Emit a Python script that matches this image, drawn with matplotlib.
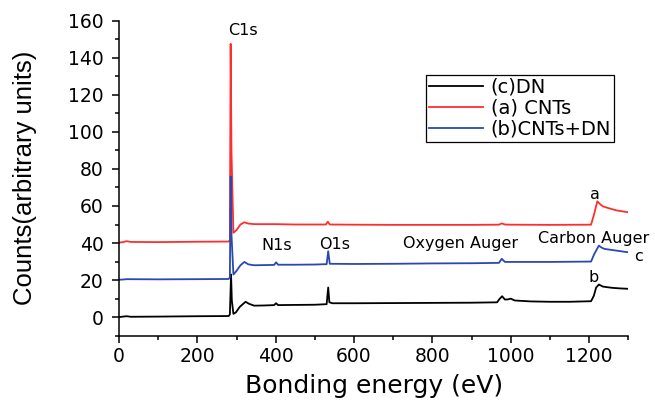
import matplotlib
matplotlib.use("Agg")
from matplotlib import pyplot as plt
from matplotlib.ticker import MultipleLocator

# XPS survey spectra (energy in eV, counts a.u.)
dn_energy = [0, 10, 20, 30, 100, 200, 280, 283, 286, 288, 292, 298, 308, 316, 323,
             332, 345, 370, 396, 401, 406, 450, 500, 530, 534, 537, 545, 600, 700,
             800, 900, 965, 972, 978, 985, 993, 1000, 1010, 1050, 1100, 1150, 1205,
             1212, 1218, 1225, 1235, 1245, 1260, 1280, 1300]
dn_counts = [0.0, 0.3, 0.5, 0.2, 0.3, 0.5, 0.6, 1.5, 23.0, 9.0, 1.8, 2.5, 5.5, 7.0, 8.3,
             7.2, 6.2, 6.3, 6.5, 7.5, 6.5, 6.6, 6.7, 7.0, 16.0, 8.0, 7.5, 7.5, 7.6,
             7.7, 7.8, 8.0, 10.0, 11.3, 9.5, 9.6, 10.0, 9.0, 8.5, 8.3, 8.3, 8.6,
             11.5, 16.0, 17.6, 16.5, 16.2, 15.8, 15.5, 15.3]

cnt_energy = [0, 10, 20, 30, 100, 200, 280, 283, 285, 287, 292, 300, 310, 320, 330,
              345, 400, 450, 500, 528, 533, 538, 600, 700, 800, 900, 970, 977, 985,
              1000, 1100, 1205, 1212, 1221, 1228, 1235, 1250, 1270, 1300]
cnt_counts = [40.2, 40.5, 41.0, 40.6, 40.5, 40.7, 40.8, 41.5, 147.5, 90.0, 45.5, 47.0,
              50.0, 51.2, 50.5, 50.2, 50.2, 50.0, 50.0, 50.0, 51.5, 50.0, 49.9, 49.8,
              49.8, 49.8, 49.9, 50.6, 50.0, 49.9, 49.8, 49.9, 55.0, 62.5, 61.0, 59.8,
              58.8, 57.6, 56.6]

mix_energy = [0, 10, 20, 100, 200, 280, 283, 285, 287, 292, 300, 310, 320, 330, 345,
              396, 401, 406, 450, 500, 530, 534, 538, 600, 700, 800, 900, 970, 977,
              985, 1000, 1100, 1205, 1213, 1225, 1232, 1240, 1260, 1280, 1300]
mix_counts = [20.2, 20.3, 20.5, 20.4, 20.5, 20.6, 21.5, 76.0, 45.0, 23.0, 25.0, 28.0,
              29.8, 28.5, 28.0, 28.2, 29.6, 28.3, 28.3, 28.4, 28.6, 35.6, 28.8, 28.7,
              28.8, 29.0, 29.1, 29.3, 31.5, 29.8, 29.8, 29.8, 30.0, 34.0, 38.6, 37.5,
              36.8, 36.2, 35.6, 35.0]

peak_labels = ["C1s", "N1s", "O1s", "Oxygen Auger", "Carbon Auger", "a", "b", "c"]
peak_x = [317, 403, 550, 873, 1212, 1215, 1211, 1326]
peak_y = [154.5, 38.6, 39.2, 39.5, 42.4, 66.1, 21.2, 32.5]

x_ticks = [0, 200, 400, 600, 800, 1000, 1200]
y_ticks = [0, 20, 40, 60, 80, 100, 120, 140, 160]

plt.rcParams["font.family"] = "DejaVu Sans"

fig = plt.figure(figsize=(6.55, 4.0), dpi=100)
ax = fig.add_axes([0.1817, 0.1608, 0.7775, 0.7875])

ax.plot(dn_energy, dn_counts, color="black", lw=1.3, label="(c)DN")
ax.plot(cnt_energy, cnt_counts, color="#ff2e2e", lw=1.3, label="(a) CNTs")
ax.plot(mix_energy, mix_counts, color="#2b48b0", lw=1.3, label="(b)CNTs+DN")

for txt, px, py in zip(peak_labels, peak_x, peak_y):
    ax.text(px, py, txt, fontsize=11.5, ha="center", va="center")

ax.set_xlim(0, 1300)
ax.set_ylim(-10, 160)
ax.set_xticks(x_ticks)
ax.set_yticks(y_ticks)
ax.xaxis.set_minor_locator(MultipleLocator(100))
ax.yaxis.set_minor_locator(MultipleLocator(10))
ax.tick_params(which="major", direction="out", length=5, width=1.1, labelsize=13.5)
ax.tick_params(axis="x", which="major", pad=3)
ax.tick_params(axis="y", which="major", pad=6)
ax.tick_params(which="minor", direction="out", length=3, width=1.1)
ax.spines["top"].set_visible(False)
ax.spines["right"].set_visible(False)
ax.spines["left"].set_linewidth(1.1)
ax.spines["bottom"].set_linewidth(1.1)

ax.set_xlabel("Bonding energy (eV)", fontsize=18, labelpad=6)
ax.set_ylabel("Counts(arbitrary units)", fontsize=18.5, family="Liberation Sans")
ax.yaxis.set_label_coords(-0.161, 0.5)

leg = ax.legend(loc="upper left", bbox_to_anchor=(0.602, 0.828), borderaxespad=0,
                fontsize=14, fancybox=False, framealpha=1, edgecolor="black",
                handlelength=2.8, labelspacing=0.1, borderpad=0.15,
                handletextpad=0.4)
leg.get_frame().set_linewidth(0.9)

fig.savefig("out.png", dpi=100)
